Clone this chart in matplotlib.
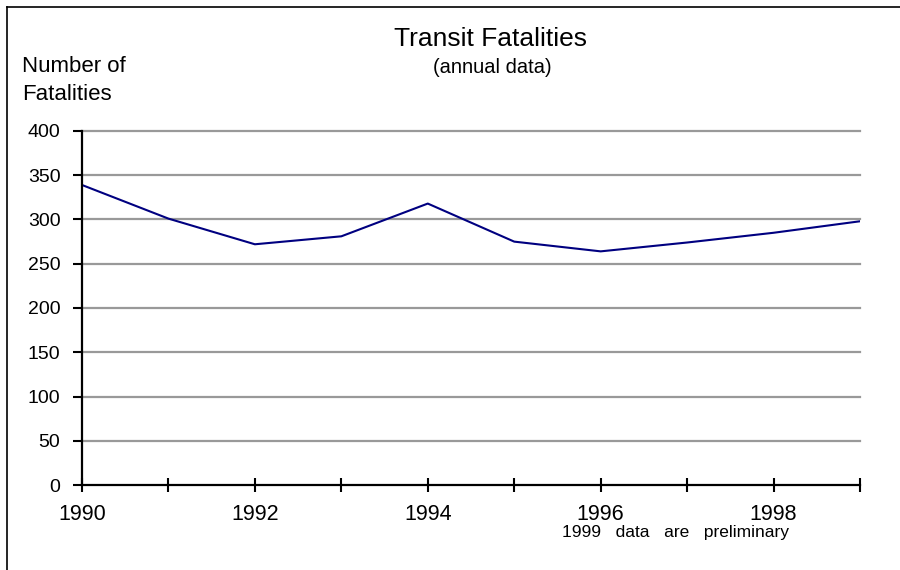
import matplotlib
matplotlib.use('Agg')
import matplotlib.pyplot as plt
from matplotlib.lines import Line2D

plt.rcParams['font.family'] = ['Liberation Sans', 'DejaVu Sans']

# ── Data ──────────────────────────────────────────────────────────────────
years = [1990, 1991, 1992, 1993, 1994, 1995, 1996, 1997, 1998, 1999]
fatalities = [339, 301, 272, 281, 318, 275, 264, 274, 285, 298]
year_labels = ['1990', '', '1992', '', '1994', '', '1996', '', '1998', '']
y_ticks = [0, 50, 100, 150, 200, 250, 300, 350, 400]

W, H = 900, 570

fig = plt.figure(figsize=(9, 5.7), dpi=100)
ax = fig.add_axes([82 / W, 1 - 485 / H, 778 / W, 354 / H])

ax.plot(years, fatalities, color='#000080', linewidth=1.5, zorder=3)

ax.set_xlim(1990, 1999)
ax.set_ylim(0, 400)
ax.set_yticks(y_ticks)
ax.set_xticks(years)
ax.set_xticklabels(year_labels)

# gray horizontal gridlines
for v in y_ticks[1:]:
    ax.axhline(v, color='#999999', linewidth=1.6, zorder=1, clip_on=False)

for side in ('top', 'right'):
    ax.spines[side].set_visible(False)
for side in ('left', 'bottom'):
    ax.spines[side].set_linewidth(1.6)
    ax.spines[side].set_color('black')
    ax.spines[side].set_zorder(4)

ax.tick_params(axis='y', direction='out', length=6.5, width=1.5, labelsize=14, pad=9)
ax.tick_params(axis='x', direction='inout', length=10, width=1.5, labelsize=15.5, pad=9)

# ── Text ──────────────────────────────────────────────────────────────────
fig.text(491 / W, 1 - 45.5 / H, 'Transit Fatalities', ha='center', va='baseline', fontsize=19)
fig.text(492 / W, 1 - 73 / H, '(annual data)', ha='center', va='baseline', fontsize=14.5)
fig.text(22 / W, 1 - 71.5 / H, 'Number of', ha='left', va='baseline', fontsize=16)
fig.text(22 / W, 1 - 100.5 / H, 'Fatalities', ha='left', va='baseline', fontsize=16)
fig.text(675 / W, 1 - 537 / H, '1999   data   are   preliminary',
         ha='center', va='baseline', fontsize=12.5)

# outer frame (left and top edges visible)
fig.add_artist(Line2D([6.5 / W, 6.5 / W], [0, 1 - 7.3 / H], color='black', linewidth=1.2))
fig.add_artist(Line2D([6.5 / W, 1], [1 - 7.3 / H, 1 - 7.3 / H], color='black', linewidth=1.2))

fig.savefig('out.png', dpi=100)
